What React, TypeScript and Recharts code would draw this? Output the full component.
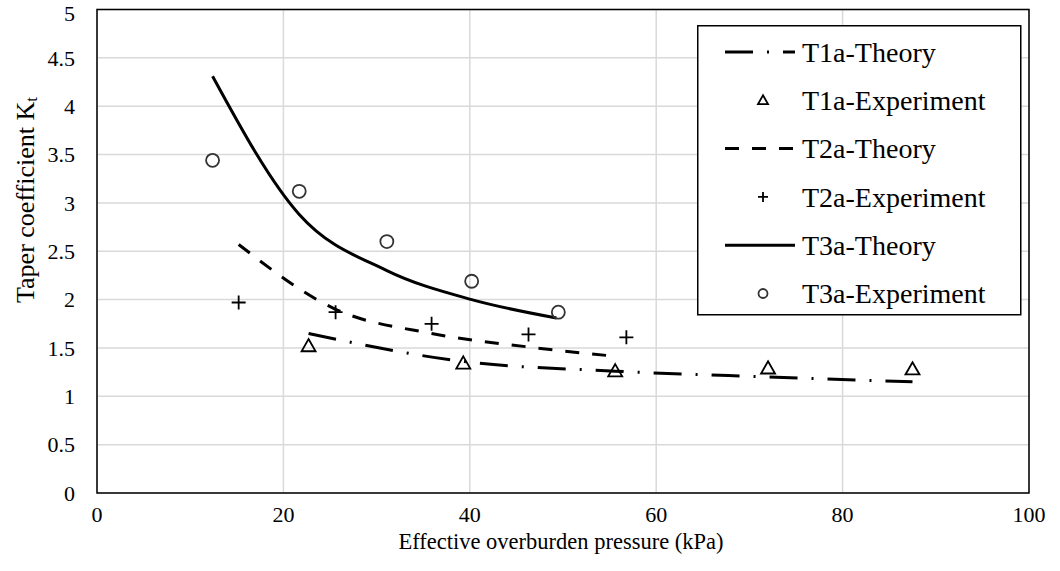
import React from 'react';
import { ComposedChart, Line, Scatter, XAxis, YAxis, CartesianGrid, Legend, ReferenceArea } from 'recharts';

// values
const xTicks = [0, 20, 40, 60, 80, 100];
const yTicks = [0, 0.5, 1, 1.5, 2, 2.5, 3, 3.5, 4, 4.5, 5];

const t1aTheory = [
  { x: 22.7, y: 1.65 },
  { x: 39.3, y: 1.36 },
  { x: 55.6, y: 1.26 },
  { x: 72.0, y: 1.2 },
  { x: 87.5, y: 1.15 },
];
const t1aExperiment = [
  { x: 22.7, y: 1.52 },
  { x: 39.3, y: 1.34 },
  { x: 55.6, y: 1.26 },
  { x: 72.0, y: 1.29 },
  { x: 87.5, y: 1.28 },
];
const t2aTheory = [
  { x: 15.2, y: 2.57 },
  { x: 25.6, y: 1.9 },
  { x: 35.9, y: 1.65 },
  { x: 46.3, y: 1.51 },
  { x: 56.0, y: 1.41 },
];
const t2aExperiment = [
  { x: 15.2, y: 1.97 },
  { x: 25.6, y: 1.87 },
  { x: 35.9, y: 1.75 },
  { x: 46.3, y: 1.64 },
  { x: 56.8, y: 1.61 },
];
const t3aTheory = [
  { x: 12.4, y: 4.31 },
  { x: 21.7, y: 2.88 },
  { x: 31.1, y: 2.3 },
  { x: 40.2, y: 2.0 },
  { x: 49.3, y: 1.81 },
];
const t3aExperiment = [
  { x: 12.4, y: 3.44 },
  { x: 21.7, y: 3.12 },
  { x: 31.1, y: 2.6 },
  { x: 40.2, y: 2.19 },
  { x: 49.5, y: 1.87 },
];

const FONT = '"Liberation Serif", "Times New Roman", serif';
const DASH_DOT = '28 14 2 14';
const DASH = '14 13';

const Triangle = ({ cx, cy, s = 7 }: any) => (
  <path
    d={`M${cx},${cy - s} L${cx + s},${cy + s * 0.75} L${cx - s},${cy + s * 0.75} Z`}
    fill="none"
    stroke="#000"
    strokeWidth={1.8}
  />
);

const Plus = ({ cx, cy, s = 7 }: any) => (
  <path d={`M${cx - s},${cy} H${cx + s} M${cx},${cy - s} V${cy + s}`} stroke="#000" strokeWidth={1.8} />
);

const Circle = ({ cx, cy, s = 6.5 }: any) => (
  <circle cx={cx} cy={cy} r={s} fill="none" stroke="#333" strokeWidth={1.8} />
);

const legendRows = [
  { name: 'T1a-Theory', kind: 'line', dash: DASH_DOT },
  { name: 'T1a-Experiment', kind: 'tri' },
  { name: 'T2a-Theory', kind: 'line', dash: DASH },
  { name: 'T2a-Experiment', kind: 'plus' },
  { name: 'T3a-Theory', kind: 'line', dash: undefined },
  { name: 'T3a-Experiment', kind: 'circle' },
];

const LegendBox = () => (
  <svg width={325} height={291} style={{ display: 'block' }}>
    <rect x={0.75} y={0.75} width={323} height={289} fill="#fff" stroke="#000" strokeWidth={1.5} />
    {legendRows.map((r, i) => {
      const cy = 27 + i * 48.3;
      return (
        <g key={r.name}>
          {r.kind === 'line' && (
            <line x1={28} x2={98} y1={cy} y2={cy} stroke="#000" strokeWidth={3} strokeDasharray={r.dash} />
          )}
          {r.kind === 'tri' && <Triangle cx={66} cy={cy} s={5} />}
          {r.kind === 'plus' && <Plus cx={66} cy={cy} s={5} />}
          {r.kind === 'circle' && <Circle cx={66} cy={cy} s={4.5} />}
          <text x={105} y={cy} dy="0.35em" fontFamily={FONT} fontSize={28} fill="#000">
            {r.name}
          </text>
        </g>
      );
    })}
  </svg>
);

const YTitle = () => (
  <text
    x={25}
    y={200}
    transform="rotate(-90 25 200)"
    textAnchor="middle"
    dominantBaseline="central"
    fontFamily={FONT}
    fontSize={26}
    fill="#000"
  >
    Taper coefficient K
    <tspan fontSize={17} dy={6}>t</tspan>
  </text>
);

const XTitle = () => (
  <text x={561} y={549} textAnchor="middle" fontFamily={FONT} fontSize={22.5} fill="#000">
    Effective overburden pressure (kPa)
  </text>
);

export default function App() {
  return (
    <div>
      <style>{'body{margin:0}'}</style>
      <ComposedChart width={1060} height={571} margin={{ top: 9.5, right: 31, bottom: 0, left: 0 }}>
        <CartesianGrid stroke="#d9d9d9" strokeWidth={1.5} />
        <XAxis
          type="number"
          dataKey="x"
          domain={[0, 100]}
          ticks={xTicks}
          height={78}
          tickSize={0}
          tickMargin={13}
          axisLine={false}
          tick={{ fontFamily: FONT, fontSize: 22, fill: '#000' }}
          label={<XTitle />}
        />
        <YAxis
          type="number"
          dataKey="y"
          domain={[0, 5]}
          ticks={yTicks}
          width={97}
          tickSize={0}
          tickMargin={22}
          axisLine={false}
          tick={{ fontFamily: FONT, fontSize: 22, fill: '#000' }}
          label={<YTitle />}
        />
        <ReferenceArea x1={0} x2={100} y1={0} y2={5} fill="none" stroke="#000" strokeWidth={1.5} />
        <Line
          data={t1aTheory}
          dataKey="y"
          type="monotone"
          stroke="#000"
          strokeWidth={3}
          strokeDasharray={DASH_DOT}
          dot={false}
          activeDot={false}
          isAnimationActive={false}
          name="T1a-Theory"
        />
        <Scatter data={t1aExperiment} shape={<Triangle />} isAnimationActive={false} name="T1a-Experiment" />
        <Line
          data={t2aTheory}
          dataKey="y"
          type="monotone"
          stroke="#000"
          strokeWidth={3}
          strokeDasharray={DASH}
          dot={false}
          activeDot={false}
          isAnimationActive={false}
          name="T2a-Theory"
        />
        <Scatter data={t2aExperiment} shape={<Plus />} isAnimationActive={false} name="T2a-Experiment" />
        <Line
          data={t3aTheory}
          dataKey="y"
          type="monotone"
          stroke="#000"
          strokeWidth={3}
          dot={false}
          activeDot={false}
          isAnimationActive={false}
          name="T3a-Theory"
        />
        <Scatter data={t3aExperiment} shape={<Circle />} isAnimationActive={false} name="T3a-Experiment" />
        <Legend
          layout="vertical"
          align="center"
          verticalAlign="middle"
          wrapperStyle={{ left: 697, top: 25, width: 325, height: 291 }}
          content={() => <LegendBox />}
        />
      </ComposedChart>
    </div>
  );
}
